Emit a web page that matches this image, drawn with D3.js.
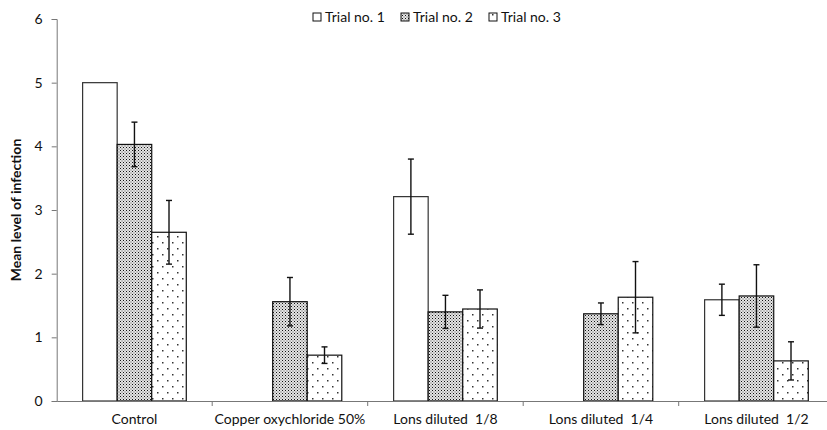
<!DOCTYPE html>
<html><head><meta charset="utf-8">
<script src="https://cdn.jsdelivr.net/npm/d3@7"></script>
<style>html,body{margin:0;padding:0;background:#fff;overflow:hidden}</style>
</head><body>
<svg id="chart" width="827" height="430"></svg>
<script>
const categories = ["Control", "Copper oxychloride 50%", "Lons diluted  1/8", "Lons diluted  1/4", "Lons diluted  1/2"];
const seriesNames = ["Trial no. 1", "Trial no. 2", "Trial no. 3"];
const trial1 = [5.00, 0, 3.21, 0, 1.59];
const trial2 = [4.03, 1.56, 1.40, 1.37, 1.65];
const trial3 = [2.65, 0.72, 1.445, 1.63, 0.63];
const err1 = [0, 0, 0.59, 0, 0.245];
const err2 = [0.35, 0.38, 0.26, 0.17, 0.49];
const err3 = [0.50, 0.13, 0.30, 0.56, 0.30];
const yTicks = [0, 1, 2, 3, 4, 5, 6];

const svg = d3.select("#chart");
const font = "Lato, 'Open Sans', sans-serif";
const defs = svg.append("defs");
// dense stipple
const p2 = defs.append("pattern").attr("id","dense").attr("patternUnits","userSpaceOnUse").attr("width",3).attr("height",3);
p2.append("rect").attr("width",3).attr("height",3).attr("fill","#e4e4e4");
p2.append("rect").attr("x",0).attr("y",0).attr("width",1).attr("height",1).attr("fill","#111");
p2.append("rect").attr("x",1.5).attr("y",1.5).attr("width",1).attr("height",1).attr("fill","#555");
// sparse dots
const p3 = defs.append("pattern").attr("id","sparse").attr("patternUnits","userSpaceOnUse").attr("width",10).attr("height",12);
p3.append("rect").attr("width",10).attr("height",12).attr("fill","#fff");
p3.append("rect").attr("x",2).attr("y",2).attr("width",1.5).attr("height",1.5).attr("fill","#333");
p3.append("rect").attr("x",7).attr("y",8).attr("width",1.5).attr("height",1.5).attr("fill","#333");

const fills = ["#fff", "url(#dense)", "url(#sparse)"];
const strokes = ["#333", "#111", "#111"];

const x0 = d3.scaleBand().domain(categories).range([56.7, 834.2]).padding(0);
const x1 = d3.scaleBand().domain(seriesNames).range([0, x0.bandwidth()]).paddingInner(0).paddingOuter(0.75);
const y = d3.scaleLinear().domain([0, 6]).range([401, 19]);

const vals = [trial1, trial2, trial3];
const errs = [err1, err2, err3];

// bars
seriesNames.forEach((s, si) => {
  const g = svg.append("g");
  g.selectAll("rect").data(categories.map((c, i) => ({c, v: vals[si][i], e: errs[si][i]})).filter(d => d.v > 0))
    .enter().append("rect")
    .attr("x", d => x0(d.c) + x1(s))
    .attr("y", d => y(d.v))
    .attr("width", x1.bandwidth())
    .attr("height", d => y(0) - y(d.v))
    .attr("fill", fills[si])
    .attr("stroke", strokes[si])
    .attr("stroke-width", 1.2);
});

// error bars
seriesNames.forEach((s, si) => {
  const data = categories.map((c, i) => ({c, v: vals[si][i], e: errs[si][i]})).filter(d => d.v > 0 && d.e > 0);
  const g = svg.append("g").attr("stroke", "#111").attr("stroke-width", 1.4);
  data.forEach(d => {
    const cx = x0(d.c) + x1(s) + x1.bandwidth() / 2;
    g.append("line").attr("x1", cx).attr("x2", cx).attr("y1", y(d.v + d.e)).attr("y2", y(d.v - d.e));
    g.append("line").attr("x1", cx - 3).attr("x2", cx + 3).attr("y1", y(d.v + d.e)).attr("y2", y(d.v + d.e));
    g.append("line").attr("x1", cx - 3).attr("x2", cx + 3).attr("y1", y(d.v - d.e)).attr("y2", y(d.v - d.e));
  });
});

// y axis
const yAxis = d3.axisLeft(y).tickValues(yTicks).tickFormat(d3.format("d")).tickSize(5).tickPadding(9);
const gy = svg.append("g").attr("transform", "translate(56.7,0)").call(yAxis);
gy.select(".domain").attr("stroke", "#777");
gy.selectAll(".tick line").attr("stroke", "#777");
gy.selectAll("text").attr("font-family", font).attr("font-size", 14).attr("fill", "#111");

// x axis
const xAxis = d3.axisBottom(x0).tickSize(0).tickPadding(13);
const gx = svg.append("g").attr("transform", "translate(0,401)").call(xAxis);
gx.select(".domain").attr("stroke", "#777");
gx.selectAll("text").attr("font-family", font).attr("font-size", 14).attr("fill", "#111").style("white-space","pre");
// boundary ticks
gx.selectAll(".bound").data(categories.slice(1)).enter().append("line")
  .attr("class","bound").attr("x1", d => x0(d)).attr("x2", d => x0(d)).attr("y1", 0).attr("y2", 5).attr("stroke", "#777");

// y title
svg.append("text").attr("transform", "translate(21,210) rotate(-90)").attr("text-anchor", "middle")
  .attr("font-family", font).attr("font-size", 14).attr("font-weight", "bold").attr("fill", "#111")
  .text("Mean level of infection");

// legend
const legX = [313, 401, 489];
const lg = svg.append("g");
seriesNames.forEach((s, i) => {
  lg.append("rect").attr("x", legX[i]).attr("y", 13).attr("width", 8).attr("height", 8)
    .attr("fill", fills[i]).attr("stroke", "#111").attr("stroke-width", 1);
  lg.append("text").attr("x", legX[i] + 12).attr("y", 22).attr("font-family", font).attr("font-size", 14)
    .attr("fill", "#111").text(s);
});
</script>
</body></html>
